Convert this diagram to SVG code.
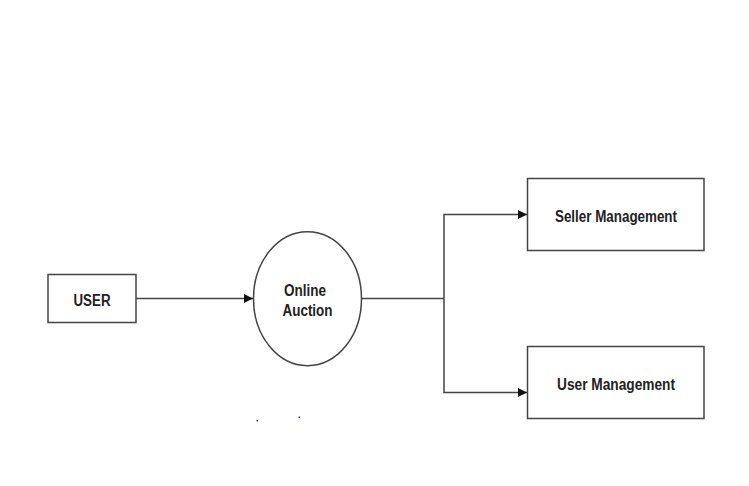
<svg xmlns="http://www.w3.org/2000/svg" width="749" height="486" viewBox="0 0 749 486">
<style>
.box{fill:#fff;stroke:#444;stroke-width:1.5}
.lbl{font-family:"Liberation Sans",Arial,sans-serif;font-weight:bold;font-size:16px;fill:#222;text-anchor:middle}
.edge{fill:none;stroke:#444;stroke-width:1.5}
</style>
<defs>
<marker id="arr" viewBox="0 0 10 10" refX="10" refY="5" markerWidth="9" markerHeight="9" markerUnits="userSpaceOnUse" orient="auto">
<path d="M0,0 L10,5 L0,10 z" fill="#111"/>
</marker>
</defs>
<rect width="749" height="486" fill="#fff"/>
<g id="connectors">
<path class="edge" d="M136,298.5 L253,298.5" marker-end="url(#arr)"/>
<path class="edge" d="M361.5,298.5 L444,298.5"/>
<path class="edge" d="M444,298.5 L444,214.5 L527,214.5" marker-end="url(#arr)"/>
<path class="edge" d="M444,298.5 L444,392.5 L527,392.5" marker-end="url(#arr)"/>
</g>
<g id="user">
<rect class="box" x="48" y="274.5" width="88" height="48"/>
<text class="lbl" x="92" y="305.5" textLength="37" lengthAdjust="spacingAndGlyphs">USER</text>
</g>
<g id="online-auction">
<ellipse class="box" cx="307.5" cy="298.7" rx="54" ry="67"/>
<text class="lbl" x="305" y="296" textLength="42" lengthAdjust="spacingAndGlyphs">Online</text>
<text class="lbl" x="307.5" y="315.5" textLength="50" lengthAdjust="spacingAndGlyphs">Auction</text>
</g>
<g id="seller-management">
<rect class="box" x="527.5" y="178.5" width="176.5" height="72"/>
<text class="lbl" x="616" y="221.5" textLength="122" lengthAdjust="spacingAndGlyphs">Seller Management</text>
</g>
<g id="user-management">
<rect class="box" x="527.5" y="346.5" width="176.5" height="72"/>
<text class="lbl" x="616" y="390" textLength="118" lengthAdjust="spacingAndGlyphs">User Management</text>
</g>
<g id="dots" fill="#2233ee">
<rect x="256.5" y="420" width="1.5" height="1.5"/>
<rect x="298.5" y="416.5" width="1.5" height="1.5"/>
</g>
</svg>
